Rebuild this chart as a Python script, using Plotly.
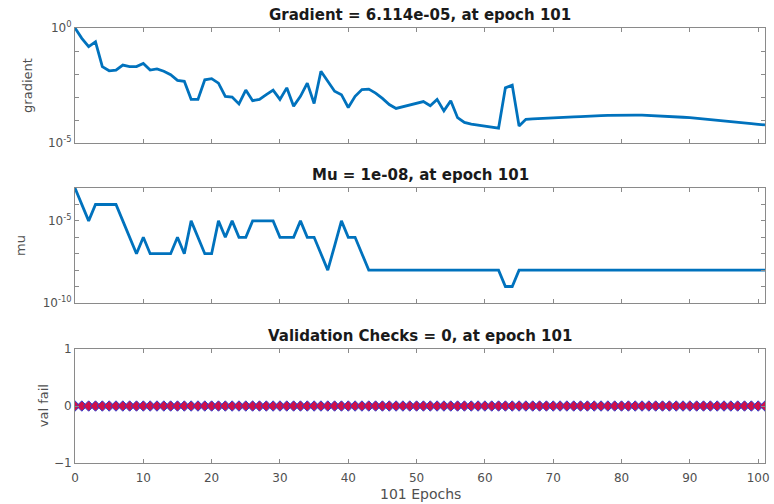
import plotly.graph_objects as go
from plotly.subplots import make_subplots

epochs = list(range(102))

gradient = [
    1.0, 0.355, 0.155, 0.251, 0.0209, 0.0138, 0.0148, 0.0245, 0.0209, 0.0209,
    0.0288, 0.0148, 0.0166, 0.0132, 0.00933, 0.00525, 0.00479, 7.9e-4, 7.9e-4, 5.6e-3,
    6.3e-3, 4.0e-3, 1.07e-3, 1.0e-3, 5.0e-4, 2.0e-3, 6.9e-4, 7.9e-4, 1.26e-3, 2.0e-3,
    7.9e-4, 2.5e-3, 4.0e-4, 1.07e-3, 4.0e-3, 5.2e-4, 1.32e-2, 4.8e-3, 1.78e-3, 1.26e-3,
    3.5e-4, 1.07e-3, 2.1e-3, 2.2e-3, 1.48e-3, 8.7e-4, 4.7e-4, 3.2e-4, 3.8e-4, 4.7e-4,
    5.6e-4, 6.3e-4, 4.2e-4, 7.9e-4, 2.5e-4, 6.9e-4, 1.26e-4, 7.9e-5, 6.6e-5, 6.0e-5,
    5.4e-5, 4.8e-5, 4.4e-5, 2.5e-3, 3.3e-3, 5.5e-5, 1.07e-4, 1.12e-4, 1.17e-4, 1.23e-4,
    1.26e-4, 1.32e-4, 1.35e-4, 1.38e-4, 1.41e-4, 1.48e-4, 1.51e-4, 1.55e-4, 1.58e-4, 1.62e-4,
    1.66e-4, 1.66e-4, 1.62e-4, 1.62e-4, 1.58e-4, 1.55e-4, 1.51e-4, 1.45e-4, 1.38e-4, 1.32e-4,
    1.26e-4, 1.17e-4, 1.10e-4, 1.02e-4, 9.5e-5, 8.9e-5, 8.3e-5, 7.8e-5, 7.2e-5, 6.9e-5,
    6.5e-5, 6.114e-5,
]

mu = (
    [1e-3, 1e-4, 1e-5, 1e-4, 1e-4, 1e-4, 1e-4, 1e-5, 1e-6, 1e-7,
     1e-6, 1e-7, 1e-7, 1e-7, 1e-7, 1e-6, 1e-7, 1e-5, 1e-6, 1e-7,
     1e-7, 1e-5, 1e-6, 1e-5, 1e-6, 1e-6, 1e-5, 1e-5, 1e-5, 1e-5,
     1e-6, 1e-6, 1e-6, 1e-5, 1e-6, 1e-6, 1e-7, 1e-8, 3e-7, 1e-5,
     1e-6, 1e-6, 1e-7]
    + [1e-8] * 20
    + [1e-9, 1e-9]
    + [1e-8] * 37
)

val_fail = [0] * 102

grad_tickvals = [1, 1e-5]
grad_ticktext = ["10<sup>0</sup>", "10<sup>-5</sup>"]
grad_minor = [1e-1, 1e-2, 1e-3, 1e-4]
mu_tickvals = [1e-5, 1e-10]
mu_ticktext = ["10<sup>-5</sup>", "10<sup>-10</sup>"]
mu_minor = [1e-3, 1e-4, 1e-6, 1e-7, 1e-8, 1e-9]
val_tickvals = [-1, 0, 1]
x_tickvals = [0, 10, 20, 30, 40, 50, 60, 70, 80, 90, 100]

titles = [
    "Gradient = 6.114e-05, at epoch 101",
    "Mu = 1e-08, at epoch 101",
    "Validation Checks = 0, at epoch 101",
]
ylabels = ["gradient", "mu", "val fail"]
xlabel = "101 Epochs"

BLUE = "#0072BD"
AX = "#8a8a8a"
TXT = "#505050"
FONT = "DejaVu Sans"

fig = make_subplots(rows=3, cols=1)

fig.add_trace(go.Scatter(x=epochs, y=gradient, mode="lines",
                         line=dict(color=BLUE, width=2.8)), row=1, col=1)
fig.add_trace(go.Scatter(x=epochs, y=mu, mode="lines",
                         line=dict(color=BLUE, width=2.8)), row=2, col=1)
fig.add_trace(go.Scatter(x=epochs, y=val_fail, mode="lines+markers",
                         line=dict(color=BLUE, width=2),
                         marker=dict(symbol="diamond", size=8, color="#d0104a",
                                     line=dict(color="#3040d0", width=1))), row=3, col=1)

# panel domains (paper coords)
doms = [[0.7356, 1.0], [0.368, 0.632], [0.0, 0.262]]

common_x = dict(range=[0, 101], tickvals=x_tickvals, ticks="inside", ticklen=4,
                tickcolor=AX, showline=True, linecolor=AX, linewidth=1,
                mirror="allticks", showgrid=False, zeroline=False,
                ticklabeloverflow="allow",
                tickfont=dict(family=FONT, size=12, color=TXT))
common_y = dict(ticks="inside", ticklen=4, tickcolor=AX, showline=True,
                linecolor=AX, linewidth=1, mirror="allticks", showgrid=False,
                zeroline=False, tickfont=dict(family=FONT, size=12, color=TXT))

for i in range(3):
    fig.update_xaxes(row=i + 1, col=1, domain=[0, 1], showticklabels=(i == 2),
                     **common_x)
    fig.update_yaxes(row=i + 1, col=1, domain=doms[i], **common_y)

fig.update_xaxes(row=3, col=1, ticklabelstandoff=4)
fig.update_yaxes(row=1, col=1, type="log", range=[-5, 0],
                 tickvals=grad_tickvals, ticktext=grad_ticktext,
                 minor=dict(tickvals=grad_minor, ticks="inside", ticklen=4,
                            tickcolor=AX, showgrid=False))
fig.update_yaxes(row=2, col=1, type="log", range=[-10, -3],
                 tickvals=mu_tickvals, ticktext=mu_ticktext,
                 minor=dict(tickvals=mu_minor, ticks="inside", ticklen=4,
                            tickcolor=AX, showgrid=False))
fig.update_yaxes(row=3, col=1, range=[-1, 1], tickvals=val_tickvals)

annotations = []
for i in range(3):
    annotations.append(dict(text=titles[i], xref="paper", yref="paper",
                            x=0.5, y=doms[i][1], xanchor="center", yanchor="bottom",
                            yshift=2, showarrow=False,
                            font=dict(family=FONT, size=15, color="#1a1a1a", weight="bold")))
ylab_x = [-0.069, -0.079, -0.046]
for i in range(3):
    annotations.append(dict(text=ylabels[i], xref="paper", yref="paper",
                            x=ylab_x[i], y=(doms[i][0] + doms[i][1]) / 2,
                            xanchor="center", yanchor="middle", textangle=-90,
                            showarrow=False,
                            font=dict(family=FONT, size=13, color=TXT)))
annotations.append(dict(text=xlabel, xref="paper", yref="paper", x=0.5, y=0,
                        xanchor="center", yanchor="middle", yshift=-31,
                        showarrow=False, font=dict(family=FONT, size=14, color=TXT)))

fig.update_layout(width=774, height=504, showlegend=False,
                  margin=dict(l=75, r=4, t=28, b=41),
                  paper_bgcolor="white", plot_bgcolor="white",
                  annotations=annotations)

fig.write_html("out.html", config={"displayModeBar": False},
               post_script="document.body.style.margin='0';")
